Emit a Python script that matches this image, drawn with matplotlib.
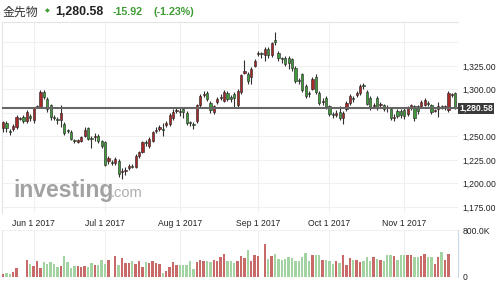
import matplotlib
matplotlib.use("Agg")
import matplotlib.pyplot as plt
import numpy as np

# ---------------- data ----------------
opens = [1259,1264,1256,1258,1260,1269,1271,1266,1272,1268,1281,1281,1297,1290,1283,1271,1269,1268,1263,1257,
         1255,1246,1244,1245,1250,1259,1248,1249,1251,1245,1244,1224,1223,1222,1224,1212,1213,1216,1219,1218,
         1229,1233,1244,1240,1245,1256,1258,1258,1262,1263,1270,1277,1277,1279,1275,1265,1263,1266,1283,1294,
         1296,1286,1276,1287,1291,1288,1296,1292,1295,1283,1297,1318,1317,1313,1325,1338,1339,1337,1343,1337,
         1353,1339,1333,1334,1333,1332,1323,1310,1316,1304,1296,1301,1313,1296,1287,1291,1282,1274,1273,1276,
         1270,1279,1286,1291,1294,1296,1305,1297,1291,1282,1291,1284,1283,1281,1279,1270,1277,1277,1278,1274,
         1280,1282,1282,1282,1284,1286,1283,1277,1279,1282,1280,1278,1294,1296.5]
highs = [1267,1266,1258,1263,1273,1271,1273,1278,1274,1281,1284,1299,1299,1292,1285,1273,1271,1284,1265,1258,
         1257,1247,1247,1250,1260,1260,1251,1254,1253,1246,1245,1229,1225,1228,1226,1216,1218,1221,1221,1231,
         1235,1245,1246,1249,1256,1260,1262,1264,1266,1275,1279,1280,1281,1281,1277,1267,1265,1285,1295,1298,
         1298,1288,1284,1292,1295,1299,1298,1294,1297,1300,1317,1331,1319,1324,1332,1341,1340,1345,1345,1351,
         1361,1341,1335,1336,1336,1334,1325,1312,1318,1306,1298,1313,1316,1298,1291,1293,1284,1276,1278,1282,
         1277,1288,1295,1293,1298,1306,1307,1299,1293,1286,1293,1287,1285,1283,1281,1274,1279,1279,1281,1282,
         1285,1284,1284,1289,1291,1288,1285,1279,1287,1284,1284,1298,1296,1297]
lows = [1255,1255,1252,1256,1258,1268,1264,1264,1266,1264,1280,1280,1290,1276,1268,1268,1263,1260,1252,1254,
        1246,1243,1243,1244,1249,1246,1238,1245,1243,1238,1219,1221,1220,1220,1207,1205,1209,1214,1216,1217,
        1227,1232,1240,1238,1244,1254,1256,1250,1260,1261,1268,1275,1272,1270,1262,1261,1258,1264,1281,1292,
        1288,1275,1274,1285,1289,1287,1288,1287,1280,1280,1295,1316,1306,1306,1324,1336,1334,1330,1334,1335,
        1347,1330,1328,1325,1322,1320,1307,1306,1297,1291,1292,1299,1295,1284,1284,1279,1272,1270,1271,1268,
        1263,1277,1284,1287,1292,1294,1300,1283,1278,1280,1278,1281,1277,1276,1268,1266,1270,1270,1269,1272,
        1278,1267,1274,1280,1282,1282,1274,1276,1271,1279,1278,1276,1292,1279]
closes = [1265,1259,1255,1261,1271,1270,1266,1276,1270,1280,1282,1297,1292,1279,1271,1270,1268,1275,1254,1256,
          1247,1245,1246,1249,1257,1247,1247,1251,1245,1240,1220,1227,1222,1226,1210,1213,1214,1219,1218,1229,
          1233,1244,1243,1247,1255,1257,1260,1257,1264,1273,1276,1278,1276,1276,1264,1264,1262,1283,1293,1295,
          1290,1278,1282,1290,1292,1297,1290,1290,1291,1298,1315,1320,1309,1322,1330,1339,1338,1343,1337,1349,
          1350,1334,1332,1327,1328,1323,1309,1309,1299,1293,1295,1311,1297,1286,1288,1281,1274,1273,1275,1270,
          1275,1286,1293,1290,1296,1304,1304,1285,1280,1283,1280,1285,1279,1280,1270,1271,1272,1273,1272,1280,
          1283,1270,1277,1287,1289,1285,1276,1278,1282,1281,1282,1296,1295,1280.58]
volumes_k = [51,68,57,79,153,0,0,284,221,193,272,147,261,227,255,221,176,187,352,261,
             159,193,193,170,181,170,233,210,210,284,227,284,0,357,210,323,244,233,272,227,
             272,170,261,233,267,244,227,74,108,170,261,199,210,210,210,272,142,261,289,278,
             267,250,284,267,340,397,272,267,238,267,357,323,460,267,374,363,0,562,306,352,
             397,306,295,306,340,323,278,278,346,414,278,369,374,374,289,284,278,221,272,233,
             374,210,323,284,284,261,272,340,272,340,306,284,278,369,369,363,284,369,369,369,
             369,346,335,357,391,346,340,227,340,425,284,397,0,0]

tick_idx = [9, 30, 52, 75, 96, 118]
tick_labels = ["Jun 1 2017", "Jul 1 2017", "Aug 1 2017", "Sep 1 2017", "Oct 1 2017", "Nov 1 2017"]
price_ticks = [1175, 1200, 1225, 1250, 1275, 1300, 1325, 1350]
price_tick_labels = ["1,175.00", "1,200.00", "1,225.00", "1,250.00", "", "1,300.00", "1,325.00", ""]
last_price = 1280.58
title_name = "金先物"
title_price = "1,280.58"
title_change = "-15.92"
title_pct = "(-1.23%)"

# ---------------- figure ----------------
W, H = 499, 284
fig = plt.figure(figsize=(W / 100, H / 100), dpi=100)
fig.patch.set_facecolor("white")

def rect(x0, y0, x1, y1):
    return [x0 / W, 1 - y1 / H, (x1 - x0) / W, (y1 - y0) / H]

ax = fig.add_axes(rect(2, 22, 458, 213))
axv = fig.add_axes(rect(2, 230, 458, 277))

n = len(closes)
idx = np.arange(n)
o = np.array(opens, float); c = np.array(closes, float)
h = np.array(highs, float); l = np.array(lows, float)
up = c >= o

RED = "#a82828"
GREEN = "#3f9a3a"
VRED = "#c96a6a"
VGREEN = "#a3d2a3"

# watermark
fig.text(13 / W, 1 - 197 / H, "investing", fontsize=16.5, fontweight="bold",
         family="Liberation Sans", color="#a2a2a2", va="baseline", ha="left", zorder=0.5)
fig.text(111 / W, 1 - 197 / H, ".com", fontsize=10.5, family="Liberation Sans",
         color="#adadad", va="baseline", ha="left", zorder=0.5)
ax.patch.set_alpha(0)

# wicks
ax.vlines(idx, l, h, color="#303030", linewidth=0.8, zorder=3)
# bodies
body_bottom = np.minimum(o, c)
body_h = np.maximum(np.abs(c - o), 0.8)
ax.bar(idx[up], body_h[up], bottom=body_bottom[up], width=0.66, color=RED,
       edgecolor="#222222", linewidth=0.4, zorder=4)
ax.bar(idx[~up], body_h[~up], bottom=body_bottom[~up], width=0.66, color=GREEN,
       edgecolor="#222222", linewidth=0.4, zorder=4)

ax.axhline(last_price, color="#666666", linewidth=1.5, zorder=5)

ax.set_xlim(-0.3, 133.8)
ax.set_ylim(1168.6, 1371.8)
ax.set_yticks(price_ticks)
ax.set_yticklabels(price_tick_labels)
ax.yaxis.tick_right()
ax.set_xticks(tick_idx)
ax.set_xticklabels(tick_labels)
ax.tick_params(axis="both", length=0, labelsize=6.2, colors="#222222")
ax.tick_params(axis="x", pad=4.2)
ax.tick_params(axis="y", pad=3)
for lab in ax.get_xticklabels() + ax.get_yticklabels():
    lab.set_family("Liberation Sans")
ax.grid(True, color="#f0f0f0", linewidth=0.8)
ax.set_axisbelow(True)
for s in ["bottom", "right"]:
    ax.spines[s].set_visible(False)
for s in ["top", "left"]:
    ax.spines[s].set_color("#e4e4e4")
    ax.spines[s].set_linewidth(0.8)

# volume
vol = np.array(volumes_k, float) * 1000
vcol = [VRED if u else VGREEN for u in up]
axv.bar(idx, vol, width=0.7, color=vcol, zorder=3)
axv.set_xlim(-0.3, 133.8)
axv.set_ylim(0, 800000)
axv.set_xticks(tick_idx)
axv.set_xticklabels([])
axv.set_yticks([0, 800000])
axv.set_yticklabels(["0", "800.0K"])
axv.yaxis.tick_right()
axv.tick_params(axis="both", length=0, labelsize=6.2, colors="#222222", pad=3)
for lab in axv.get_yticklabels():
    lab.set_family("Liberation Sans")
axv.grid(True, color="#f0f0f0", linewidth=0.8)
axv.set_axisbelow(True)
for s in ["top", "bottom"]:
    axv.spines[s].set_visible(False)
axv.spines["right"].set_color("#c9d9ea")
axv.spines["left"].set_color("#e8e8e8")

# current price label
fig.text(459 / W, 1 - 108.5 / H, title_price, fontsize=6.2, fontweight="bold",
         family="Liberation Sans", color="white", va="center", ha="left", zorder=10,
         bbox=dict(boxstyle="square,pad=0.15", fc="#3a3a3a", ec="none"))

# title
ty = 1 - 12 / H
fig.text(3 / W, ty, title_name, fontsize=8.6, family=["Noto Sans CJK JP", "DejaVu Sans"],
         color="#333333", va="center", ha="left")
fig.text(45 / W, ty + 0.004, "◆", fontsize=4.5, family="DejaVu Sans", color="#3f9c35",
         va="center", ha="left")
fig.text(55 / W, ty, title_price, fontsize=8.9, fontweight="bold", family="Liberation Sans",
         color="#222222", va="center", ha="left")
fig.text(113 / W, ty, title_change, fontsize=7.7, fontweight="bold", family="Liberation Sans",
         color="#3f9c35", va="center", ha="left")
fig.text(153 / W, ty, title_pct, fontsize=7.7, fontweight="bold", family="Liberation Sans",
         color="#3f9c35", va="center", ha="left")

fig.savefig("out.png", dpi=100, facecolor="white")
